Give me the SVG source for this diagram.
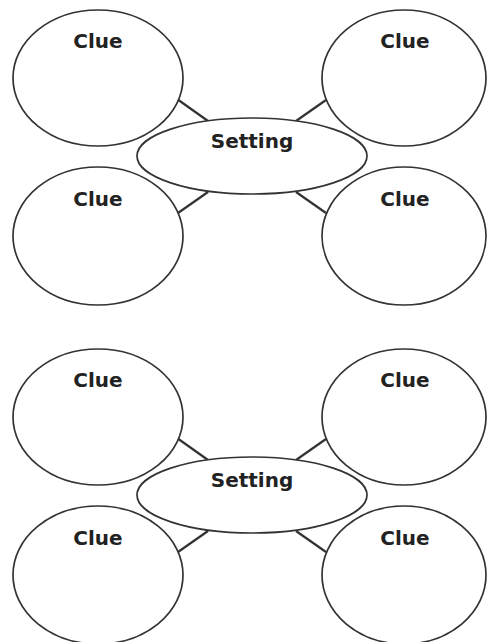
<svg xmlns="http://www.w3.org/2000/svg" width="488" height="642" viewBox="0 0 488 642">
<style>
.n{fill:#fff;stroke:#333;stroke-width:1.7}
.c{stroke:#333;stroke-width:2.2;fill:none}
.t{font-family:"DejaVu Sans",Verdana,sans-serif;font-weight:bold;font-size:20px;fill:#222;text-anchor:middle}
</style>
<rect width="488" height="642" fill="#fff"/>
<g id="connectors">
<line class="c" x1="177" y1="99" x2="208" y2="121"/>
<line class="c" x1="178" y1="213" x2="208" y2="192"/>
<line class="c" x1="326" y1="100" x2="296" y2="121"/>
<line class="c" x1="326" y1="213" x2="296" y2="192"/>
<line class="c" x1="177" y1="438" x2="208" y2="460"/>
<line class="c" x1="178" y1="552" x2="208" y2="531"/>
<line class="c" x1="326" y1="439" x2="296" y2="460"/>
<line class="c" x1="326" y1="552" x2="296" y2="531"/>
</g>
<g id="clue1"><ellipse class="n" cx="98" cy="78" rx="85" ry="68"/><text class="t" x="98" y="48">Clue</text></g>
<g id="clue2"><ellipse class="n" cx="404" cy="78" rx="82" ry="68"/><text class="t" x="405" y="48">Clue</text></g>
<g id="clue3"><ellipse class="n" cx="98" cy="236" rx="85" ry="69"/><text class="t" x="98" y="206">Clue</text></g>
<g id="clue4"><ellipse class="n" cx="404" cy="236" rx="82" ry="69"/><text class="t" x="405" y="206">Clue</text></g>
<g id="setting1"><ellipse class="n" cx="252" cy="156" rx="115" ry="38"/><text class="t" x="252" y="148">Setting</text></g>
<g id="clue5"><ellipse class="n" cx="98" cy="417" rx="85" ry="68"/><text class="t" x="98" y="387">Clue</text></g>
<g id="clue6"><ellipse class="n" cx="404" cy="417" rx="82" ry="68"/><text class="t" x="405" y="387">Clue</text></g>
<g id="clue7"><ellipse class="n" cx="98" cy="575" rx="85" ry="69"/><text class="t" x="98" y="545">Clue</text></g>
<g id="clue8"><ellipse class="n" cx="404" cy="575" rx="82" ry="69"/><text class="t" x="405" y="545">Clue</text></g>
<g id="setting2"><ellipse class="n" cx="252" cy="495" rx="115" ry="38"/><text class="t" x="252" y="487">Setting</text></g>
</svg>
